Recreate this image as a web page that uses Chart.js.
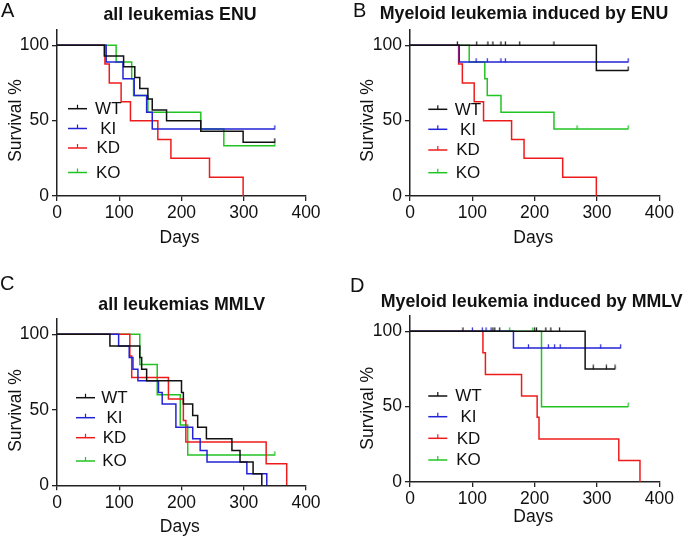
<!DOCTYPE html>
<html><head><meta charset="utf-8">
<script src="https://cdn.jsdelivr.net/npm/chart.js@4"></script>
<style>
html,body{margin:0;padding:0;background:#fff;}
#wrap{position:relative;width:685px;height:536px;overflow:hidden;background:#fff;}
canvas{position:absolute;}
</style></head><body><div id="wrap">
<canvas id="cA" width="340" height="268" style="left:0;top:0"></canvas>
<canvas id="cB" width="345" height="268" style="left:340px;top:0"></canvas>
<canvas id="cC" width="340" height="268" style="left:0;top:268px"></canvas>
<canvas id="cD" width="345" height="268" style="left:340px;top:268px"></canvas>
</div>
<script>
// ---------------- data ----------------
const groups = ['WT', 'KI', 'KD', 'KO'];
const xTicks = [0, 100, 200, 300, 400];
const yTicks = [0, 50, 100];
const panelLetters = ['A', 'B', 'C', 'D'];
const panelTitles = ['all leukemias ENU', 'Myeloid leukemia induced by ENU', 'all leukemias MMLV', 'Myeloid leukemia induced by MMLV'];
const xAxisTitle = 'Days';
const yAxisTitle = 'Survival %';

// Panel A: all leukemias ENU
const A_WT_days = [0, 76, 107, 125, 133, 146, 153, 176, 231, 299, 350];
const A_WT_surv = [100, 92.9, 85.7, 78.6, 71.4, 64.3, 57.1, 50, 42.9, 35.7, 35.7];
const A_WT_censDays = [350];
const A_WT_censSurv = [35.7];
const A_KI_days = [0, 79, 106, 124, 144, 153, 350];
const A_KI_surv = [100, 88.9, 77.8, 66.7, 55.6, 44.4, 44.4];
const A_KI_censDays = [350];
const A_KI_censSurv = [44.4];
const A_KD_days = [0, 77, 84, 103, 118, 162, 183, 245, 299];
const A_KD_surv = [100, 87.5, 75, 62.5, 50, 37.5, 25, 12.5, 0];
const A_KD_censDays = [];
const A_KD_censSurv = [];
const A_KO_days = [0, 95, 120, 123, 146, 231, 268, 350];
const A_KO_surv = [100, 88.9, 77.8, 66.7, 55.6, 44.4, 33.3, 33.3];
const A_KO_censDays = [350];
const A_KO_censSurv = [33.3];

// Panel B: myeloid leukemia induced by ENU
const B_WT_days = [0, 299, 350];
const B_WT_surv = [100, 83.3, 83.3];
const B_WT_censDays = [76, 107, 125, 133, 146, 153, 176, 231, 350];
const B_WT_censSurv = [100, 100, 100, 100, 100, 100, 100, 100, 83.3];
const B_KI_days = [0, 79, 350];
const B_KI_surv = [100, 88.9, 88.9];
const B_KI_censDays = [106, 124, 146, 153, 350];
const B_KI_censSurv = [88.9, 88.9, 88.9, 88.9, 88.9];
const B_KD_days = [0, 78, 84, 103, 118, 163, 183, 245, 299];
const B_KD_surv = [100, 87.5, 75, 62.5, 50, 37.5, 25, 12.5, 0];
const B_KD_censDays = [];
const B_KD_censSurv = [];
const B_KO_days = [0, 95, 120, 124, 146, 231, 350];
const B_KO_surv = [100, 88.9, 77.8, 66.7, 55.6, 44.4, 44.4];
const B_KO_censDays = [268, 350];
const B_KO_censSurv = [44.4, 44.4];

// Panel C: all leukemias MMLV
const C_WT_days = [0, 85, 133, 136, 144, 200, 203, 218, 226, 240, 281, 294, 315, 329];
const C_WT_surv = [100, 92.3, 84.6, 76.9, 69.2, 61.5, 53.8, 46.2, 38.5, 30.8, 23.1, 15.4, 7.7, 0];
const C_WT_censDays = [];
const C_WT_censSurv = [];
const C_KI_days = [0, 99, 116, 122, 130, 163, 169, 191, 218, 230, 241, 305, 337];
const C_KI_surv = [100, 92.3, 84.6, 76.9, 69.2, 61.5, 53.8, 38.5, 30.8, 23.1, 15.4, 7.7, 0];
const C_KI_censDays = [];
const C_KI_censSurv = [];
const C_KD_days = [0, 117, 120, 179, 203, 207, 336, 369];
const C_KD_surv = [100, 85.7, 71.4, 57.1, 42.9, 28.6, 14.3, 0];
const C_KD_censDays = [];
const C_KD_censSurv = [];
const C_KO_days = [0, 133, 161, 198, 210, 350];
const C_KO_surv = [100, 80, 60, 40, 20, 20];
const C_KO_censDays = [350];
const C_KO_censSurv = [20];

// Panel D: myeloid leukemia induced by MMLV
const D_WT_days = [0, 281, 329];
const D_WT_surv = [100, 75, 75];
const D_WT_censDays = [85, 133, 136, 144, 200, 203, 218, 226, 240, 294, 315, 329];
const D_WT_censSurv = [100, 100, 100, 100, 100, 100, 100, 100, 100, 75, 75, 75];
const D_KI_days = [0, 166, 338];
const D_KI_surv = [100, 88.9, 88.9];
const D_KI_censDays = [100, 116, 122, 130, 190, 222, 232, 241, 306, 338];
const D_KI_censSurv = [100, 100, 100, 100, 88.9, 88.9, 88.9, 88.9, 88.9, 88.9];
const D_KD_days = [0, 117, 121, 179, 204, 207, 335, 369];
const D_KD_surv = [100, 85.7, 71.4, 57.1, 42.9, 28.6, 14.3, 0];
const D_KD_censDays = [];
const D_KD_censSurv = [];
const D_KO_days = [0, 211, 350];
const D_KO_surv = [100, 50, 50];
const D_KO_censDays = [160, 197, 350];
const D_KO_censSurv = [100, 100, 50];

// ---------------- styles / layout ----------------
const groupColors = ['#111111', '#2222d6', '#ee1b1b', '#22c422'];
const FONT = '"Liberation Sans", Arial, Helvetica, sans-serif';
const axisColor = '#222222';

const layouts = [
  { id: 'cA', yW: 57, padR: 34, padT: 30.2, xH: 72,
    letter: [1, 16.5], title: [180, 19.5], days: [179.5, 242.5], surv: [20.5, 120.5],
    legX: [68, 87], legTx: 108.3, legY: [108.7, 128.5, 148, 172.5] },
  { id: 'cB', yW: 70, padR: 25.7, padT: 30.2, xH: 72,
    letter: [13, 16.5], title: [184, 19], days: [193.3, 242.5], surv: [33.3, 120.5],
    legX: [88.3, 107.3], legTx: 128, legY: [109.3, 129.3, 150, 172.7] },
  { id: 'cC', yW: 57, padR: 34, padT: 51.2, xH: 50.7,
    letter: [0, 21.5], title: [181.7, 42], days: [179.7, 263.5], surv: [20.5, 142.5],
    legX: [76, 95], legTx: 114.5, legY: [129.7, 149.7, 169.7, 193] },
  { id: 'cD', yW: 70, padR: 25.7, padT: 48.2, xH: 54,
    letter: [10, 23.5], title: [191.7, 38.7], days: [193.3, 253.7], surv: [33.3, 140.3],
    legX: [88.3, 107.3], legTx: 128.5, legY: [128, 148.7, 170.3, 192] }
];

const panelData = [
  [[A_WT_days, A_WT_surv, A_WT_censDays, A_WT_censSurv], [A_KI_days, A_KI_surv, A_KI_censDays, A_KI_censSurv],
   [A_KD_days, A_KD_surv, A_KD_censDays, A_KD_censSurv], [A_KO_days, A_KO_surv, A_KO_censDays, A_KO_censSurv]],
  [[B_WT_days, B_WT_surv, B_WT_censDays, B_WT_censSurv], [B_KI_days, B_KI_surv, B_KI_censDays, B_KI_censSurv],
   [B_KD_days, B_KD_surv, B_KD_censDays, B_KD_censSurv], [B_KO_days, B_KO_surv, B_KO_censDays, B_KO_censSurv]],
  [[C_WT_days, C_WT_surv, C_WT_censDays, C_WT_censSurv], [C_KI_days, C_KI_surv, C_KI_censDays, C_KI_censSurv],
   [C_KD_days, C_KD_surv, C_KD_censDays, C_KD_censSurv], [C_KO_days, C_KO_surv, C_KO_censDays, C_KO_censSurv]],
  [[D_WT_days, D_WT_surv, D_WT_censDays, D_WT_censSurv], [D_KI_days, D_KI_surv, D_KI_censDays, D_KI_censSurv],
   [D_KD_days, D_KD_surv, D_KD_censDays, D_KD_censSurv], [D_KO_days, D_KO_surv, D_KO_censDays, D_KO_censSurv]]
];

// censor tick marker: short vertical line pointing up from the curve
function tickMarker(color) {
  const c = document.createElement('canvas');
  c.width = 3; c.height = 9;
  const g = c.getContext('2d');
  g.strokeStyle = color; g.lineWidth = 1.2;
  g.beginPath(); g.moveTo(1.5, 0.5); g.lineTo(1.5, 4.8); g.stroke();
  return c;
}
const markers = groupColors.map(tickMarker);

function decorPlugin(i, L) {
  return {
    id: 'decor' + i,
    afterDraw(chart) {
      const ctx = chart.ctx;
      ctx.save();
      ctx.fillStyle = '#111';
      ctx.textBaseline = 'alphabetic';
      ctx.font = '20px ' + FONT;
      ctx.textAlign = 'left';
      ctx.fillText(panelLetters[i], L.letter[0], L.letter[1]);
      ctx.font = 'bold 17.8px ' + FONT;
      ctx.textAlign = 'center';
      ctx.fillText(panelTitles[i], L.title[0], L.title[1]);
      ctx.font = '17.5px ' + FONT;
      ctx.fillText(xAxisTitle, L.days[0], L.days[1]);
      ctx.save();
      ctx.translate(L.surv[0], L.surv[1]);
      ctx.rotate(-Math.PI / 2);
      ctx.fillText(yAxisTitle, 0, 0);
      ctx.restore();
      // legend
      ctx.font = '17px ' + FONT;
      groups.forEach((g, k) => {
        const y = L.legY[k];
        ctx.strokeStyle = groupColors[k];
        ctx.lineWidth = 1.5;
        ctx.beginPath(); ctx.moveTo(L.legX[0], y); ctx.lineTo(L.legX[1], y); ctx.stroke();
        const mx = (L.legX[0] + L.legX[1]) / 2;
        ctx.lineWidth = 1.2;
        ctx.beginPath(); ctx.moveTo(mx, y); ctx.lineTo(mx, y - 4); ctx.stroke();
        ctx.fillStyle = '#111';
        ctx.textAlign = 'center';
        ctx.fillText(g, L.legTx, y + 5.2);
      });
      ctx.restore();
    }
  };
}

function pts(xs, ys) { return xs.map((x, j) => ({ x: x, y: ys[j] })); }

function axisCommon(ticksArr) {
  return {
    afterBuildTicks: (s) => { s.ticks = ticksArr.map(v => ({ value: v })); },
    grid: { drawOnChartArea: false, drawTicks: true, tickLength: 5, color: axisColor, lineWidth: 1.3 },
    border: { display: true, color: axisColor, width: 1.5 },
    ticks: { font: { family: FONT, size: 17.5 }, color: '#111', autoSkip: false, maxRotation: 0 }
  };
}

layouts.forEach((L, i) => {
  const datasets = [];
  panelData[i].forEach((d, k) => {
    datasets.push({
      label: groups[k],
      data: pts(d[0], d[1]),
      showLine: true, stepped: 'before',
      borderColor: groupColors[k], borderWidth: 1.5,
      pointRadius: 0, fill: false
    });
    datasets.push({
      label: groups[k] + ' censored',
      data: pts(d[2], d[3]),
      showLine: false,
      pointStyle: markers[k], pointRadius: 3,
      borderColor: groupColors[k], backgroundColor: groupColors[k]
    });
  });
  const xa = axisCommon(xTicks);
  xa.type = 'linear'; xa.min = 0; xa.max = 400;
  xa.ticks.padding = 2;
  xa.afterFit = (s) => { s.height = L.xH; };
  const ya = axisCommon(yTicks);
  ya.type = 'linear'; ya.min = 0; ya.max = 110;
  ya.ticks.padding = 3;
  ya.afterFit = (s) => { s.width = L.yW; };
  new Chart(document.getElementById(L.id), {
    type: 'scatter',
    data: { datasets: datasets },
    options: {
      responsive: false,
      animation: false,
      layout: { padding: { top: L.padT, right: L.padR, left: 0, bottom: 0 } },
      plugins: { legend: { display: false }, tooltip: { enabled: false }, title: { display: false } },
      scales: { x: xa, y: ya }
    },
    plugins: [decorPlugin(i, L)]
  });
});
</script></body></html>
